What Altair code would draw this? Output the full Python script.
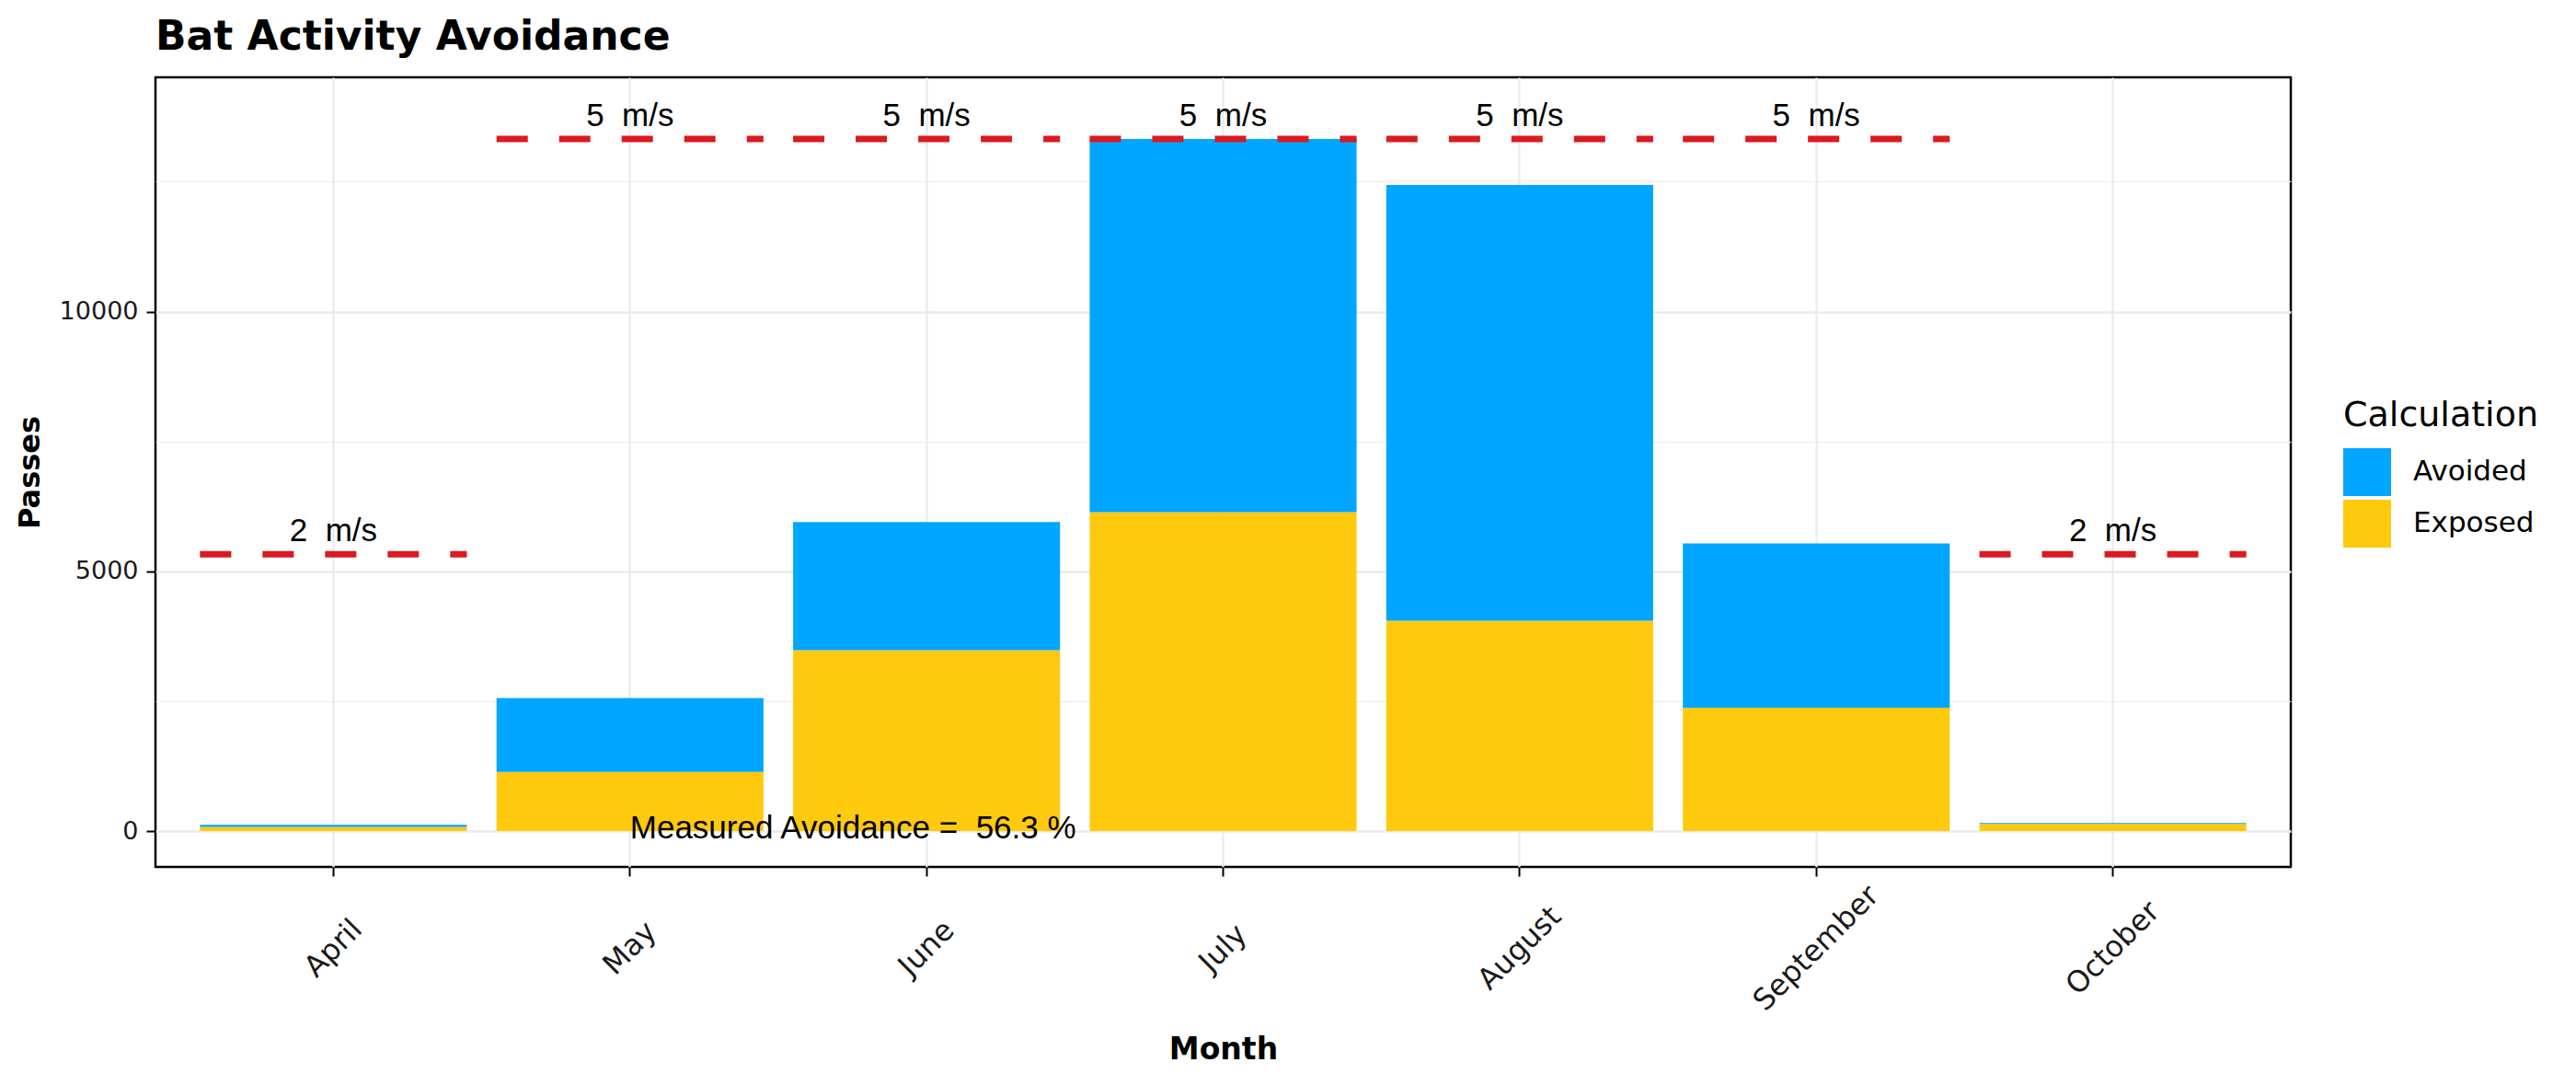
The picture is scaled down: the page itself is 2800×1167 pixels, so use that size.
import altair as alt
import pandas as pd

months = ["April", "May", "June", "July", "August", "September", "October"]
exposed = [80, 1139, 3481, 6139, 4051, 2373, 140]
avoided = [40, 1424, 2468, 7184, 8386, 3165, 15]
calc_names = ["Avoided", "Exposed"]
calc_colors = ["#00A6FF", "#FFC90E"]
threshold_values = [5330, 13323, 13323, 13323, 13323, 13323, 5330]
threshold_labels = ["2\u00a0\u00a0m/s", "5\u00a0\u00a0m/s", "5\u00a0\u00a0m/s", "5\u00a0\u00a0m/s",
                    "5\u00a0\u00a0m/s", "5\u00a0\u00a0m/s", "2\u00a0\u00a0m/s"]
y_tick_values = [0, 2500, 5000, 7500, 10000, 12500]
y_domain = [-690, 14510]
annotation_month = ["May"]
annotation_value = [0]
annotation_text = ["Measured Avoidance =\u00a0\u00a056.3 %"]

rows = []
for m, e, a in zip(months, exposed, avoided):
    rows.append({"Month": m, "Calculation": "Exposed", "Passes": e, "stackorder": 0})
    rows.append({"Month": m, "Calculation": "Avoided", "Passes": a, "stackorder": 1})
bars_df = pd.DataFrame(rows)
thr_df = pd.DataFrame({"Month": months, "thr": threshold_values, "label": threshold_labels})
ann_df = pd.DataFrame({"Month": annotation_month, "y": annotation_value, "text": annotation_text})

FONT = "DejaVu Sans"
x_scale = alt.Scale(domain=months, paddingInner=0.1, paddingOuter=0.15)
y_scale = alt.Scale(domain=y_domain, nice=False, zero=False)

major = "datum.value % 5000 === 0"

x_axis = alt.Axis(
    title="Month", labelAngle=-45, labelAlign="center", labelBaseline="middle",
    labelPadding=78, labelFontSize=32, labelFont=FONT, labelColor="#1a1a1a",
    labelOverlap=False, labelBound=False,
    tickSize=10, tickWidth=2, tickColor="black", domain=False,
    grid=True, gridColor="#EBEBEB", gridWidth=2.3, bandPosition=0.5,
    titleFont=FONT, titleFontSize=33, titleFontWeight="bold", titleColor="black",
    titleY=208, titleBaseline="alphabetic",
)
y_axis = alt.Axis(
    title="Passes", values=y_tick_values, format="d",
    labelExpr=f"{major} ? datum.label : ''",
    labelFontSize=27, labelFont=FONT, labelColor="#1a1a1a", labelPadding=9,
    tickSize=10, tickWidth=2, tickColor="black",
    tickOpacity={"condition": {"test": major, "value": 1}, "value": 0},
    domain=False, grid=True, gridColor="#EBEBEB",
    gridWidth={"condition": {"test": major, "value": 2.3}, "value": 1.2},
    titleFont=FONT, titleFontSize=32, titleFontWeight="bold", titleColor="black",
    titleX=-137, titleBaseline="middle", titleAngle=270,
)

bars = alt.Chart(bars_df).mark_bar().encode(
    x=alt.X("Month:N", scale=x_scale, sort=months, axis=x_axis),
    y=alt.Y("Passes:Q", scale=y_scale, stack="zero", axis=y_axis),
    color=alt.Color(
        "Calculation:N",
        scale=alt.Scale(domain=calc_names, range=calc_colors),
        legend=alt.Legend(
            title="Calculation", orient="none", legendX=2378, legendY=349,
            symbolType="square", symbolSize=2704, symbolStrokeWidth=0, symbolOpacity=1,
            titleFont=FONT, titleFontSize=38, titleFontWeight="normal", titleColor="black",
            titleBaseline="top", titlePadding=16, titleLimit=600, labelLimit=600,
            labelFont=FONT, labelFontSize=31, labelColor="black", labelOffset=24,
            rowPadding=4, padding=0,
        ),
    ),
    order=alt.Order("stackorder:Q", sort="ascending"),
)

rules = alt.Chart(thr_df).mark_rule(
    color="#DA1B20", strokeWidth=7, strokeDash=[34, 34], strokeCap="butt"
).encode(
    x=alt.X("Month:N", scale=x_scale, sort=months, bandPosition=0),
    x2=alt.X2("Month", bandPosition=1),
    y=alt.Y("thr:Q", scale=y_scale),
)

labels = alt.Chart(thr_df).mark_text(
    font="Liberation Sans", fontSize=35, baseline="alphabetic", dy=-14, color="black"
).encode(
    x=alt.X("Month:N", scale=x_scale, sort=months),
    y=alt.Y("thr:Q", scale=y_scale),
    text="label:N",
)

ann = alt.Chart(ann_df).mark_text(
    font="Liberation Sans", fontSize=35, baseline="alphabetic", align="left", dy=8, color="black"
).encode(
    x=alt.X("Month:N", scale=x_scale, sort=months),
    y=alt.Y("y:Q", scale=y_scale),
    text="text:N",
)

chart = alt.layer(bars, rules, labels, ann).properties(
    width=2321, height=858,
    title=alt.TitleParams(
        "Bat Activity Avoidance", anchor="start", frame="group", fontSize=44,
        font=FONT, fontWeight="bold", color="black", baseline="alphabetic", offset=29, dy=43,
    ),
    padding={"left": 161, "top": 76, "right": 300, "bottom": 215},
    autosize="none",
).configure_view(stroke="black", strokeWidth=2.5)

chart.save("out.html", embed_options={"renderer": "svg", "actions": False})
